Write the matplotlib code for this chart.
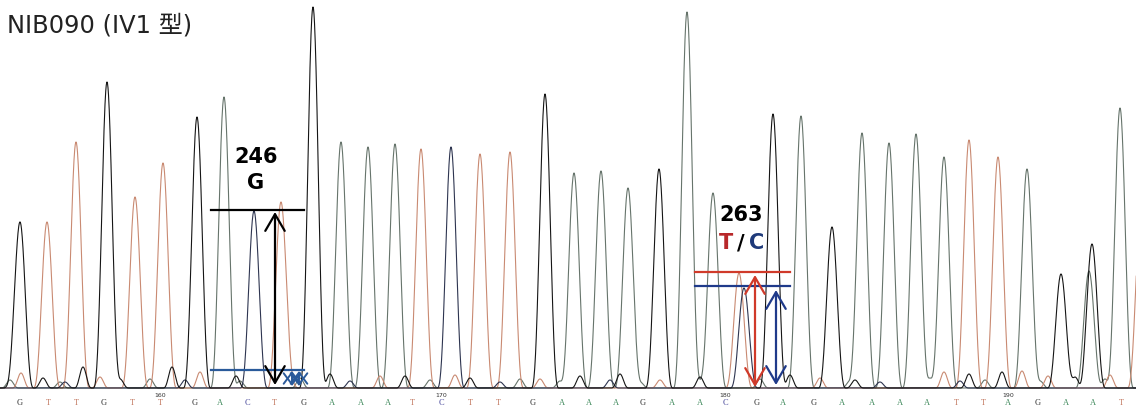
import matplotlib
matplotlib.use("Agg")
import matplotlib.pyplot as plt
import numpy as np

# Sanger trace: peak centre / peak height per dye channel (picture units, baseline = 0)
A_POS = [224, 341, 368, 395, 574, 601, 628, 687, 713, 801, 862, 889, 916, 944, 1027, 1089, 1120]
A_HGT = [291, 246, 241, 244, 215, 217, 200, 376, 195, 272, 255, 245, 254, 231, 219, 117, 280]
G_POS = [20, 107, 197, 313, 545, 659, 773, 832, 1061, 1092]
G_HGT = [166, 306, 271, 381, 294, 219, 274, 161, 114, 144]
T_POS = [47, 76, 135, 163, 281, 421, 480, 510, 739, 969, 998, 1141]
T_HGT = [166, 246, 191, 225, 186, 239, 234, 236, 115, 248, 231, 175]
C_POS = [254, 451, 744]
C_HGT = [177, 241, 100]

# small background bumps near the baseline
A_NOISE_POS = [10, 60, 150, 240, 300, 430, 520, 560, 640, 700, 760, 850, 930, 985, 1040, 1105]
A_NOISE_HGT = [8, 6, 9, 7, 10, 8, 9, 7, 6, 8, 9, 7, 10, 8, 7, 9]
G_NOISE_POS = [12, 43, 83, 120, 172, 236, 330, 405, 470, 580, 620, 700, 790, 855, 969, 1002, 1075]
G_NOISE_HGT = [10, 10, 21, 9, 21, 12, 14, 12, 10, 12, 14, 11, 13, 8, 14, 16, 11]
T_NOISE_POS = [21, 100, 200, 290, 380, 455, 540, 660, 820, 944, 1022, 1048, 1110]
T_NOISE_HGT = [15, 11, 16, 10, 12, 13, 9, 8, 10, 16, 17, 12, 13]
C_NOISE_POS = [65, 185, 350, 500, 610, 880, 960]
C_NOISE_HGT = [6, 8, 7, 6, 8, 6, 7]

# base calls
CALLS = list("GTTGTTGACTGAAATCTTGAAAGAACGAGAAAATTAGAAT")
CALL_POS = [20, 48, 76, 104, 132, 160, 195, 220, 247, 274, 304, 332, 361, 388, 412, 441,
            470, 498, 533, 562, 589, 616, 643, 672, 700, 725, 757, 783, 814, 842, 872, 900,
            927, 956, 983, 1008, 1038, 1066, 1093, 1121]
TICK_POS = [160, 441, 725, 1008]
TICK_LABELS = ["160", "170", "180", "190"]

TRACE_COL = {"A": "#66746b", "C": "#2e3550", "G": "#151515", "T": "#c98a72"}
CALL_COL = {"A": "#3f8a5c", "C": "#4a4a9c", "G": "#333333", "T": "#c0735a"}

HALF_W = 14.0
xs = np.arange(-10, 1160, 0.25)


def trace(pos, hgt, npos, nhgt):
    # each peak drawn as a cos^3 bump that falls to the baseline within HALF_W
    y = np.zeros_like(xs)
    for c, h in zip(list(pos) + list(npos), list(hgt) + list(nhgt)):
        w = HALF_W if h > 30 else 9.0
        d = np.clip(np.abs(xs - c) / w, 0, 1)
        y += h * np.cos(np.pi * d / 2) ** 3
    return y


fig = plt.figure(figsize=(11.36, 4.11), dpi=100)
ax = fig.add_axes([0, 0, 1, 1])
ax.set_xlim(0, 1136)
ax.set_ylim(-23, 388)
ax.axis("off")

channels = [
    ("A", A_POS, A_HGT, A_NOISE_POS, A_NOISE_HGT),
    ("T", T_POS, T_HGT, T_NOISE_POS, T_NOISE_HGT),
    ("C", C_POS, C_HGT, C_NOISE_POS, C_NOISE_HGT),
    ("G", G_POS, G_HGT, G_NOISE_POS, G_NOISE_HGT),
]
for base, pos, hgt, npos, nhgt in channels:
    ax.plot(xs, trace(pos, hgt, npos, nhgt), color=TRACE_COL[base], lw=0.8)

for b, x in zip(CALLS, CALL_POS):
    ax.text(x, -15, b, ha="center", va="center", fontsize=6,
            family="Liberation Serif", color=CALL_COL[b])
for x, lab in zip(TICK_POS, TICK_LABELS):
    ax.text(x, -7, lab, ha="center", va="center", fontsize=4.5, color="#333333")

ax.text(7, 363, "NIB090 (IV1 型)", ha="left", va="center", fontsize=17.4,
        family=["DejaVu Sans", "Noto Sans CJK JP"], color="#222222")

# --- 246 G annotation ---
ax.plot([211, 304], [178, 178], color="black", lw=1.6)
ax.plot([211, 304], [18, 18], color="#2a5a9a", lw=1.6)
arrow = "<->,head_length=1.2,head_width=0.7"
ax.annotate("", xy=(275, 176), xytext=(275, 3),
            arrowprops=dict(arrowstyle=arrow, lw=1.6, color="black",
                            shrinkA=0, shrinkB=0, mutation_scale=10))
for xa in [292, 299]:
    ax.annotate("", xy=(xa, 17), xytext=(xa, 2),
                arrowprops=dict(arrowstyle="<->,head_length=0.8,head_width=0.6", lw=1.4,
                                color="#2a5a9a", shrinkA=0, shrinkB=0, mutation_scale=10))
ax.text(256, 231, "246", ha="center", va="center", fontsize=15, fontweight="bold")
ax.text(256, 205, "G", ha="center", va="center", fontsize=15, fontweight="bold")

# --- 263 T/C annotation ---
ax.plot([695, 790], [116, 116], color="#d03a2a", lw=1.6)
ax.plot([695, 790], [102, 102], color="#1f3a8a", lw=1.6)
ax.annotate("", xy=(755, 113), xytext=(755, 1),
            arrowprops=dict(arrowstyle=arrow, lw=1.6, color="#d03a2a",
                            shrinkA=0, shrinkB=0, mutation_scale=10))
ax.annotate("", xy=(776, 98), xytext=(776, 3),
            arrowprops=dict(arrowstyle=arrow, lw=1.6, color="#1f3a8a",
                            shrinkA=0, shrinkB=0, mutation_scale=10))
ax.text(741, 173, "263", ha="center", va="center", fontsize=15, fontweight="bold")
ax.text(741, 145, "/", ha="center", va="center", fontsize=15, fontweight="bold")
ax.text(733, 145, "T", ha="right", va="center", fontsize=15, fontweight="bold", color="#b8282a")
ax.text(749, 145, "C", ha="left", va="center", fontsize=15, fontweight="bold", color="#1f3a7a")

fig.savefig("out.png", dpi=100, facecolor="white")
